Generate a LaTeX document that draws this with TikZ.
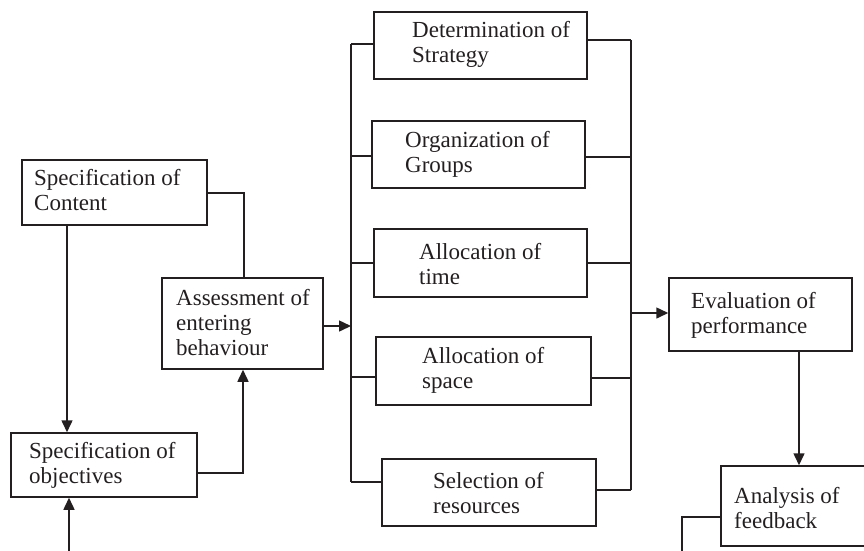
\documentclass[tikz,border=0pt]{standalone}
\usepackage{fontspec}
\setmainfont{Liberation Serif}
\usetikzlibrary{arrows.meta}
\definecolor{ink}{HTML}{231F20}
\begin{document}
\begin{tikzpicture}[x=1pt,y=-1pt,
  box/.style={draw=ink,line width=1.5pt,inner sep=0pt,rectangle},
  txt/.style={inner sep=0pt,anchor=base west,text=ink,font=\fontsize{23}{25}\selectfont},
  conn/.style={draw=ink,line width=1.5pt},
  arr/.style={conn,-{Triangle[length=12pt,width=11pt]}}]
\useasboundingbox (0,0) rectangle (864,550);
\clip (0,0) rectangle (864,550);
% boxes
\node[box,minimum width=185,minimum height=65] (content) at (114.5,192.5) {};
\node[box,minimum width=161,minimum height=91] (assess) at (242.5,323.5) {};
\node[box,minimum width=186,minimum height=64] (obj) at (104,465) {};
\node[box,minimum width=213,minimum height=67] (det) at (480.5,45.5) {};
\node[box,minimum width=213,minimum height=67] (org) at (478.5,154.5) {};
\node[box,minimum width=213,minimum height=68] (time) at (480.5,263) {};
\node[box,minimum width=215,minimum height=68] (space) at (483.5,371) {};
\node[box,minimum width=214,minimum height=67] (sel) at (489,492.5) {};
\node[box,minimum width=183,minimum height=73] (eval) at (760.5,314.5) {};
\node[box,minimum width=179,minimum height=80] (anal) at (810.5,506) {};
% texts
\node[txt] (t1a) at (34,185) {Specification of};
\node[txt] (t1b) at (34,210) {Content};
\node[txt] (t2a) at (176,305) {Assessment of};
\node[txt] (t2b) at (176,330) {entering};
\node[txt] (t2c) at (176,355) {behaviour};
\node[txt] (t3a) at (29,458) {Specification of};
\node[txt] (t3b) at (29,483) {objectives};
\node[txt] (t4a) at (412,37) {Determination of};
\node[txt] (t4b) at (412,62) {Strategy};
\node[txt] (t5a) at (405,147) {Organization of};
\node[txt] (t5b) at (405,172) {Groups};
\node[txt] (t6a) at (419,259) {Allocation of};
\node[txt] (t6b) at (419,284) {time};
\node[txt] (t7a) at (422,363) {Allocation of};
\node[txt] (t7b) at (422,388) {space};
\node[txt] (t8a) at (433,488) {Selection of};
\node[txt] (t8b) at (433,513) {resources};
\node[txt] (t9a) at (691,308) {Evaluation of};
\node[txt] (t9b) at (691,333) {performance};
\node[txt] (t10a) at (734,503) {Analysis of};
\node[txt] (t10b) at (734,528) {feedback};
% bus coordinates
\coordinate (L1) at (351,44);
\coordinate (L2) at (351,156);
\coordinate (L3) at (351,263);
\coordinate (L4) at (351,377);
\coordinate (L5) at (351,482);
\coordinate (Lin) at (351,326);
\coordinate (R1) at (631,40);
\coordinate (R2) at (631,157);
\coordinate (R3) at (631,263);
\coordinate (R4) at (631,378);
\coordinate (R5) at (631,490);
\coordinate (Rout) at (631,313);
\coordinate (in1) at (69,560);
\coordinate (out1) at (682,560);
% left side connectors
\draw[conn] (content.east |- 0,193) -| (assess.north -| 244,0);
\draw[arr] (content.south -| 67,0) -- (obj.north -| 67,0);
\draw[arr] (obj.east |- 0,473) -| (assess.south -| 243,0);
\draw[arr] (in1) -- (in1 |- obj.south);
\draw[arr] (assess.east |- Lin) -- (Lin);
% left bus
\draw[conn] (L1) -- (L5);
\draw[conn] (L1) -- (L1 -| det.west);
\draw[conn] (L2) -- (L2 -| org.west);
\draw[conn] (L3) -- (L3 -| time.west);
\draw[conn] (L4) -- (L4 -| space.west);
\draw[conn] (L5) -- (L5 -| sel.west);
% right bus
\draw[conn] (R1) -- (R5);
\draw[conn] (R1) -- (R1 -| det.east);
\draw[conn] (R2) -- (R2 -| org.east);
\draw[conn] (R3) -- (R3 -| time.east);
\draw[conn] (R4) -- (R4 -| space.east);
\draw[conn] (R5) -- (R5 -| sel.east);
\draw[arr] (Rout) -- (Rout -| eval.west);
% right side
\draw[arr] (eval.south -| 799,0) -- (anal.north -| 799,0);
\draw[conn] (anal.west |- 0,517) -| (out1);
\end{tikzpicture}
\end{document}
